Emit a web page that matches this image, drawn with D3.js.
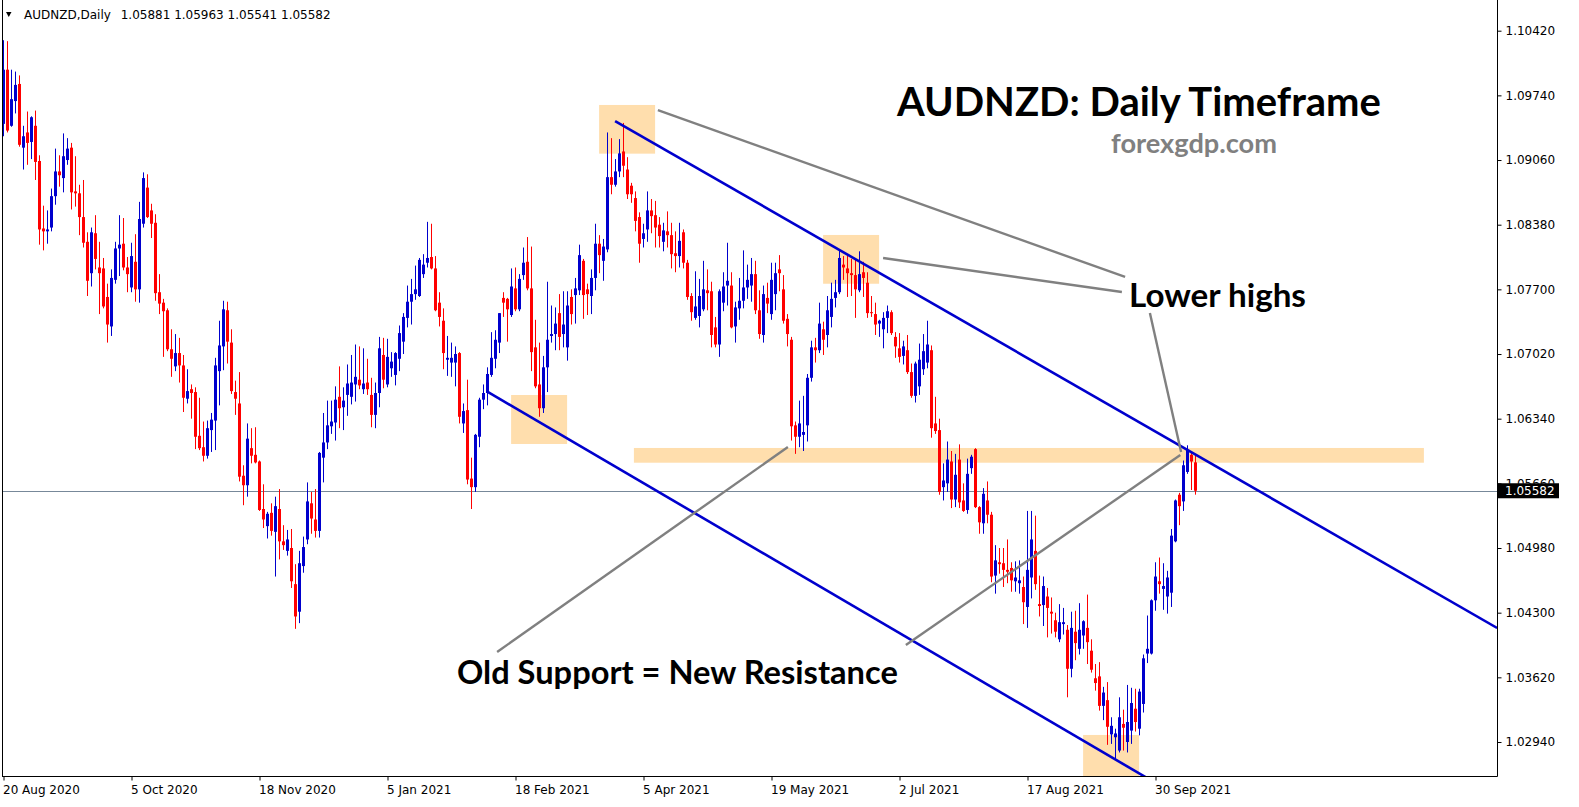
<!DOCTYPE html>
<html><head><meta charset="utf-8">
<script src="https://cdn.jsdelivr.net/npm/d3@7"></script>
<style>html,body{margin:0;padding:0;background:#fff;}svg{display:block;}</style>
</head><body>
<svg id="c" width="1579" height="807"></svg>
<script>
// ---- data (AUDNZD daily, bar 0 = 20 Aug 2020) ----
const openP = [
1.0944,1.1001,1.0942,1.0968,1.0986,1.0919,1.0935,1.0925,1.0942,1.0905,
1.0834,1.0831,1.0835,1.0868,1.0894,1.0887,1.0906,1.0919,1.0873,1.0871,
1.0846,1.0820,1.0787,1.0829,1.0793,1.0792,1.0762,1.0731,1.0780,1.0813,
1.0818,1.0793,1.0772,1.0799,1.0770,1.0839,1.0877,1.0853,1.0840,1.0767,
1.0756,1.0748,1.0707,1.0689,1.0703,1.0690,1.0655,1.0665,1.0662,1.0616,
1.0604,1.0595,1.0622,1.0632,1.0684,1.0710,1.0748,1.0714,1.0662,1.0650,
1.0574,1.0564,1.0603,1.0596,1.0589,1.0539,1.0521,1.0535,1.0515,1.0539,
1.0505,1.0495,1.0498,1.0460,1.0431,1.0479,1.0507,1.0545,1.0528,1.0516,
1.0593,1.0609,1.0626,1.0630,1.0657,1.0646,1.0659,1.0657,1.0670,1.0675,
1.0665,1.0672,1.0659,1.0638,1.0661,1.0701,1.0670,1.0687,1.0680,1.0697,
1.0715,1.0740,1.0757,1.0765,1.0763,1.0786,1.0798,1.0804,1.0792,1.0756,
1.0737,1.0696,1.0693,1.0693,1.0703,1.0629,1.0643,1.0571,1.0562,1.0615,
1.0654,1.0661,1.0680,1.0697,1.0714,1.0761,1.0760,1.0743,1.0771,1.0749,
1.0785,1.0799,1.0771,1.0709,1.0670,1.0645,1.0688,1.0721,1.0723,1.0745,
1.0723,1.0709,1.0762,1.0764,1.0769,1.0800,1.0770,1.0763,1.0782,1.0818,
1.0800,1.0812,1.0888,1.0880,1.0894,1.0915,1.0896,1.0879,1.0866,1.0846,
1.0823,1.0833,1.0853,1.0848,1.0838,1.0820,1.0831,1.0827,1.0808,1.0805,
1.0830,1.0798,1.0763,1.0740,1.0742,1.0749,1.0769,1.0768,1.0730,1.0712,
1.0756,1.0774,1.0774,1.0731,1.0750,1.0758,1.0772,1.0774,1.0786,1.0748,
1.0722,1.0761,1.0744,1.0765,1.0791,1.0770,1.0739,1.0717,1.0627,1.0615,
1.0617,1.0627,1.0677,1.0709,1.0706,1.0728,1.0722,1.0741,1.0761,1.0767,
1.0796,1.0792,1.0787,1.0785,1.0769,1.0788,1.0777,1.0746,1.0744,1.0734,
1.0728,1.0740,1.0746,1.0720,1.0708,1.0700,1.0706,1.0683,1.0658,1.0668,
1.0686,1.0693,1.0706,1.0629,1.0622,1.0562,1.0566,1.0589,1.0549,1.0591,
1.0548,1.0538,1.0582,1.0602,1.0541,1.0524,1.0548,1.0533,1.0469,1.0483,
1.0482,1.0475,1.0477,1.0463,1.0461,1.0457,1.0436,1.0467,1.0495,1.0439,
1.0438,1.0447,1.0431,1.0422,1.0402,1.0418,1.0412,1.0371,1.0410,1.0392,
1.0406,1.0414,1.0390,1.0361,1.0363,1.0332,1.0338,1.0302,1.0299,1.0285,
1.0313,1.0294,1.0306,1.0329,1.0308,1.0334,1.0387,1.0387,1.0443,1.0463,
1.0455,1.0447,1.0451,1.0505,1.0554,1.0547,1.0578,1.0596,1.05881];
const highP = [
1.1032,1.1031,1.1001,1.0999,1.0995,1.0942,1.0957,1.0952,1.0958,1.0911,
1.0858,1.0853,1.0876,1.0918,1.0911,1.0934,1.0929,1.0924,1.0910,1.0880,
1.0885,1.0830,1.0835,1.0848,1.0820,1.0803,1.0776,1.0791,1.0820,1.0848,
1.0845,1.0804,1.0819,1.0828,1.0862,1.0893,1.0891,1.0860,1.0849,1.0786,
1.0760,1.0750,1.0728,1.0723,1.0719,1.0701,1.0686,1.0670,1.0667,1.0656,
1.0631,1.0632,1.0640,1.0698,1.0737,1.0758,1.0757,1.0728,1.0674,1.0683,
1.0585,1.0629,1.0624,1.0625,1.0590,1.0565,1.0536,1.0545,1.0552,1.0560,
1.0522,1.0517,1.0518,1.0481,1.0495,1.0510,1.0567,1.0557,1.0560,1.0599,
1.0640,1.0653,1.0653,1.0668,1.0689,1.0667,1.0691,1.0701,1.0712,1.0710,
1.0708,1.0697,1.0677,1.0672,1.0720,1.0719,1.0718,1.0704,1.0704,1.0732,
1.0745,1.0774,1.0781,1.0795,1.0803,1.0807,1.0841,1.0839,1.0805,1.0767,
1.0750,1.0721,1.0714,1.0710,1.0704,1.0650,1.0675,1.0593,1.0618,1.0656,
1.0670,1.0688,1.0725,1.0727,1.0745,1.0767,1.0761,1.0792,1.0793,1.0786,
1.0814,1.0825,1.0815,1.0738,1.0714,1.0700,1.0778,1.0753,1.0751,1.0765,
1.0768,1.0768,1.0770,1.0782,1.0817,1.0802,1.0776,1.0791,1.0839,1.0827,
1.0823,1.0935,1.0929,1.0907,1.0928,1.0945,1.0909,1.0882,1.0873,1.0851,
1.0839,1.0873,1.0865,1.0863,1.0846,1.0840,1.0852,1.0840,1.0831,1.0840,
1.0833,1.0801,1.0766,1.0789,1.0781,1.0800,1.0791,1.0778,1.0741,1.0770,
1.0788,1.0819,1.0788,1.0757,1.0782,1.0811,1.0796,1.0803,1.0800,1.0769,
1.0774,1.0777,1.0798,1.0798,1.0806,1.0785,1.0744,1.0720,1.0631,1.0653,
1.0658,1.0681,1.0716,1.0719,1.0756,1.0736,1.0763,1.0777,1.0780,1.0812,
1.0805,1.0806,1.0802,1.0801,1.0810,1.0799,1.0788,1.0763,1.0756,1.0738,
1.0746,1.0753,1.0748,1.0725,1.0724,1.0716,1.0722,1.0692,1.0694,1.0713,
1.0723,1.0737,1.0711,1.0657,1.0634,1.0587,1.0610,1.0600,1.0597,1.0607,
1.0566,1.0592,1.0596,1.0603,1.0542,1.0561,1.0568,1.0536,1.0501,1.0498,
1.0498,1.0507,1.0483,1.0484,1.0485,1.0468,1.0537,1.0537,1.0532,1.0469,
1.0468,1.0456,1.0446,1.0430,1.0439,1.0435,1.0417,1.0431,1.0432,1.0440,
1.0422,1.0449,1.0402,1.0376,1.0378,1.0352,1.0357,1.0320,1.0308,1.0341,
1.0328,1.0354,1.0351,1.0350,1.0350,1.0386,1.0427,1.0444,1.0483,1.0488,
1.0482,1.0474,1.0518,1.0549,1.0556,1.0590,1.0606,1.0599,1.05963];
const lowP = [
1.0931,1.0935,1.0941,1.0955,1.0920,1.0896,1.0901,1.0907,1.0885,1.0817,
1.0811,1.0818,1.0831,1.0859,1.0878,1.0872,1.0901,1.0854,1.0857,1.0827,
1.0814,1.0763,1.0773,1.0791,1.0744,1.0750,1.0714,1.0721,1.0776,1.0784,
1.0790,1.0767,1.0767,1.0757,1.0756,1.0835,1.0845,1.0824,1.0758,1.0744,
1.0699,1.0705,1.0678,1.0684,1.0672,1.0641,1.0650,1.0634,1.0602,1.0601,
1.0589,1.0592,1.0599,1.0601,1.0648,1.0685,1.0692,1.0660,1.0638,1.0568,
1.0543,1.0552,1.0587,1.0587,1.0537,1.0519,1.0508,1.0511,1.0468,1.0486,
1.0496,1.0490,1.0456,1.0413,1.0419,1.0472,1.0502,1.0513,1.0509,1.0509,
1.0567,1.0602,1.0618,1.0611,1.0624,1.0622,1.0637,1.0649,1.0652,1.0665,
1.0660,1.0659,1.0625,1.0624,1.0646,1.0666,1.0667,1.0678,1.0669,1.0684,
1.0702,1.0730,1.0733,1.0759,1.0762,1.0782,1.0793,1.0791,1.0747,1.0731,
1.0686,1.0679,1.0678,1.0668,1.0629,1.0619,1.0565,1.0539,1.0557,1.0604,
1.0644,1.0648,1.0678,1.0687,1.0703,1.0741,1.0715,1.0741,1.0747,1.0747,
1.0780,1.0769,1.0684,1.0666,1.0636,1.0640,1.0662,1.0714,1.0706,1.0706,
1.0709,1.0695,1.0733,1.0734,1.0764,1.0739,1.0743,1.0744,1.0769,1.0787,
1.0779,1.0809,1.0870,1.0878,1.0888,1.0888,1.0865,1.0861,1.0831,1.0798,
1.0814,1.0820,1.0829,1.0814,1.0814,1.0810,1.0814,1.0792,1.0788,1.0793,
1.0792,1.0759,1.0737,1.0738,1.0730,1.0747,1.0748,1.0709,1.0709,1.0699,
1.0747,1.0753,1.0729,1.0714,1.0738,1.0750,1.0760,1.0757,1.0744,1.0718,
1.0714,1.0745,1.0738,1.0748,1.0768,1.0734,1.0710,1.0611,1.0597,1.0604,
1.0600,1.0610,1.0673,1.0693,1.0703,1.0701,1.0709,1.0730,1.0751,1.0765,
1.0780,1.0762,1.0763,1.0740,1.0767,1.0762,1.0740,1.0741,1.0722,1.0720,
1.0708,1.0724,1.0722,1.0698,1.0693,1.0691,1.0681,1.0656,1.0651,1.0659,
1.0680,1.0687,1.0614,1.0618,1.0554,1.0548,1.0557,1.0540,1.0541,1.0540,
1.0536,1.0534,1.0576,1.0540,1.0513,1.0513,1.0524,1.0462,1.0450,1.0471,
1.0457,1.0461,1.0452,1.0452,1.0450,1.0418,1.0414,1.0445,1.0454,1.0426,
1.0416,1.0404,1.0408,1.0404,1.0399,1.0407,1.0341,1.0362,1.0380,1.0386,
1.0392,1.0376,1.0367,1.0348,1.0327,1.0317,1.0291,1.0292,1.0275,1.0283,
1.0285,1.0283,1.0292,1.0305,1.0301,1.0325,1.0377,1.0386,1.0432,1.0450,
1.0433,1.0429,1.0436,1.0504,1.0522,1.0537,1.0576,1.0559,1.05541];
const closeP = [
1.1001,1.0937,1.0970,1.0985,1.0922,1.0931,1.0924,1.0951,1.0904,1.0833,
1.0831,1.0833,1.0868,1.0894,1.0890,1.0910,1.0918,1.0872,1.0871,1.0846,
1.0819,1.0779,1.0830,1.0802,1.0787,1.0752,1.0733,1.0782,1.0813,1.0817,
1.0793,1.0786,1.0805,1.0770,1.0844,1.0887,1.0846,1.0839,1.0766,1.0755,
1.0747,1.0707,1.0697,1.0703,1.0690,1.0656,1.0663,1.0661,1.0615,1.0603,
1.0595,1.0624,1.0633,1.0690,1.0711,1.0749,1.0715,1.0663,1.0655,1.0573,
1.0564,1.0613,1.0595,1.0588,1.0538,1.0528,1.0534,1.0516,1.0542,1.0505,
1.0501,1.0507,1.0463,1.0426,1.0482,1.0499,1.0547,1.0529,1.0516,1.0598,
1.0609,1.0627,1.0631,1.0654,1.0645,1.0653,1.0671,1.0672,1.0678,1.0669,
1.0671,1.0665,1.0638,1.0661,1.0708,1.0675,1.0699,1.0694,1.0703,1.0724,
1.0741,1.0757,1.0765,1.0770,1.0801,1.0796,1.0803,1.0792,1.0748,1.0741,
1.0703,1.0698,1.0698,1.0702,1.0636,1.0642,1.0570,1.0562,1.0617,1.0654,
1.0661,1.0681,1.0698,1.0717,1.0745,1.0756,1.0749,1.0773,1.0749,1.0781,
1.0798,1.0771,1.0704,1.0668,1.0645,1.0688,1.0717,1.0723,1.0734,1.0720,
1.0733,1.0753,1.0744,1.0771,1.0806,1.0764,1.0765,1.0782,1.0818,1.0806,
1.0815,1.0888,1.0880,1.0894,1.0913,1.0900,1.0870,1.0870,1.0842,1.0818,
1.0829,1.0853,1.0847,1.0835,1.0826,1.0832,1.0827,1.0807,1.0805,1.0821,
1.0798,1.0762,1.0746,1.0752,1.0763,1.0770,1.0766,1.0722,1.0712,1.0768,
1.0773,1.0779,1.0730,1.0751,1.0758,1.0772,1.0780,1.0786,1.0748,1.0723,
1.0765,1.0755,1.0780,1.0787,1.0787,1.0737,1.0723,1.0626,1.0615,1.0629,
1.0620,1.0677,1.0709,1.0706,1.0734,1.0717,1.0748,1.0760,1.0767,1.0803,
1.0793,1.0787,1.0785,1.0770,1.0786,1.0782,1.0745,1.0745,1.0733,1.0737,
1.0740,1.0747,1.0724,1.0710,1.0699,1.0710,1.0683,1.0658,1.0692,1.0696,
1.0705,1.0712,1.0624,1.0621,1.0557,1.0569,1.0591,1.0549,1.0575,1.0546,
1.0537,1.0576,1.0594,1.0541,1.0525,1.0555,1.0533,1.0468,1.0485,1.0481,
1.0475,1.0473,1.0464,1.0467,1.0464,1.0441,1.0475,1.0507,1.0460,1.0437,
1.0458,1.0435,1.0429,1.0410,1.0420,1.0420,1.0371,1.0414,1.0398,1.0412,
1.0421,1.0399,1.0370,1.0356,1.0332,1.0346,1.0310,1.0311,1.0303,1.0320,
1.0309,1.0315,1.0335,1.0315,1.0347,1.0382,1.0392,1.0443,1.0468,1.0460,
1.0458,1.0467,1.0511,1.0548,1.0542,1.0585,1.0601,1.0589,1.05582];

const dateTickBars = [0, 32, 64, 96, 128, 160, 192, 224, 256, 288];
const dateTickLabels = ["20 Aug 2020","5 Oct 2020","18 Nov 2020","5 Jan 2021","18 Feb 2021",
                        "5 Apr 2021","19 May 2021","2 Jul 2021","17 Aug 2021","30 Sep 2021"];
const priceTicks = [1.10420,1.09740,1.09060,1.08380,1.07700,1.07020,1.06340,1.05660,1.04980,1.04300,1.03620,1.02940];
const lastPrice = 1.05582;
const symbolText = "AUDNZD,Daily";
const ohlcText = "1.05881 1.05963 1.05541 1.05582";

// annotation objects in (bar index, price) coordinates
const zones = [
  {i0:148.9, i1:162.9, p0:1.09639, p1:1.09127},
  {i0:204.9, i1:218.9, p0:1.08272, p1:1.07759},
  {i0:126.9, i1:140.9, p0:1.06589, p1:1.06074},
  {i0:157.6, i1:355.1, p0:1.06032, p1:1.05877},
  {i0:269.9, i1:283.9, p0:1.03014, p1:1.02400}
];
const channelLines = [
  {i0:152.9, p0:1.09470, i1:373.4, p1:1.04139},
  {i0:120.95, p0:1.06624, i1:287.0, p1:1.02534}
];
const pointerLines = [
  {i0:163.6, p0:1.09586, i1:280.4, p1:1.07830},
  {i0:219.9, p0:1.08030, i1:279.6, p1:1.07672},
  {i0:286.6, p0:1.07451, i1:294.4, p1:1.05990},
  {i0:123.4, p0:1.03887, i1:196.1, p1:1.06042},
  {i0:225.6, p0:1.03960, i1:294.2, p1:1.05958}
];
const notes = [
  {t:"AUDNZD: Daily Timeframe", x:897, y:116, w:484, fs:38, c:"#000000"},
  {t:"forexgdp.com", x:1111, y:153, w:166, fs:26, c:"#808080"},
  {t:"Lower highs", x:1129, y:307, w:177, fs:29, c:"#000000"},
  {t:"Old Support = New Resistance", x:457, y:684, w:441, fs:29, c:"#000000"}
];

// ---- layout ----
const W = 1579, H = 807, L = 2, R = 1497, B = 776;
const BULL = "#0000CD", BEAR = "#FF0000";
const AXFONT = "'DejaVu Sans', Verdana, sans-serif";
const svg = d3.select("#c");
const x = d3.scaleLinear().domain([0, 1]).range([3.5, 7.5]);
const y = d3.scaleLinear().domain([1.10420, 1.02940]).range([30.7, 742]);
const yl = y(lastPrice);

svg.append("rect").attr("width", W).attr("height", H).attr("fill", "#fff");
const defs = svg.append("defs");
defs.append("clipPath").attr("id", "pc").append("rect")
  .attr("x", L).attr("y", 0).attr("width", R - L).attr("height", B);
defs.append("clipPath").attr("id", "lblclip").append("rect")
  .attr("x", -10).attr("y", -20).attr("width", 100).attr("height", 20 + (yl - 7.5 - y(1.05660)));
const plot = svg.append("g").attr("clip-path", "url(#pc)");

// zones
plot.selectAll("rect.zone").data(zones).join("rect").attr("class", "zone")
  .attr("x", d => x(d.i0)).attr("width", d => x(d.i1) - x(d.i0))
  .attr("y", d => y(d.p0)).attr("height", d => y(d.p1) - y(d.p0))
  .attr("fill", "#FFDEAD");

// current price line
plot.append("line").attr("x1", L).attr("x2", R)
  .attr("y1", Math.round(yl) + 0.5).attr("y2", Math.round(yl) + 0.5)
  .attr("stroke", "#778899").attr("stroke-width", 1);

// candles
const bars = d3.range(closeP.length).map(i => ({i, o: openP[i], h: highP[i], l: lowP[i], c: closeP[i]}));
const cg = plot.selectAll("g.bar").data(bars).join("g").attr("class", "bar");
cg.append("line")
  .attr("x1", d => x(d.i)).attr("x2", d => x(d.i))
  .attr("y1", d => y(Math.max(d.h, d.o, d.c))).attr("y2", d => y(Math.min(d.l, d.o, d.c)))
  .attr("stroke", d => d.c >= d.o ? BULL : BEAR).attr("stroke-width", 1);
cg.append("rect")
  .attr("x", d => x(d.i) - 1.5).attr("width", 3)
  .attr("y", d => y(Math.max(d.o, d.c)))
  .attr("height", d => Math.max(1, Math.abs(y(d.o) - y(d.c))))
  .attr("fill", d => d.c >= d.o ? BULL : BEAR);

// channel lines
plot.selectAll("line.ch").data(channelLines).join("line").attr("class", "ch")
  .attr("x1", d => x(d.i0)).attr("y1", d => y(d.p0))
  .attr("x2", d => x(d.i1)).attr("y2", d => y(d.p1))
  .attr("stroke", "#0000CD").attr("stroke-width", 2.6);
// pointer lines
plot.selectAll("line.pt").data(pointerLines).join("line").attr("class", "pt")
  .attr("x1", d => x(d.i0)).attr("y1", d => y(d.p0))
  .attr("x2", d => x(d.i1)).attr("y2", d => y(d.p1))
  .attr("stroke", "#808080").attr("stroke-width", 2.4);

// notes
notes.forEach(n => {
  const t = svg.append("text").attr("x", n.x).attr("y", n.y)
    .attr("font-family", "Lato, 'Open Sans', sans-serif").attr("font-weight", 700)
    .attr("font-size", n.fs).attr("fill", n.c).text(n.t);
  const w = t.node().getComputedTextLength();
  if (w > 0) t.attr("font-size", n.fs * n.w / w);
});

// frame
svg.append("line").attr("x1", L + 0.5).attr("x2", L + 0.5).attr("y1", 0).attr("y2", B + 0.5).attr("stroke", "#000");
svg.append("line").attr("x1", L).attr("x2", R + 0.5).attr("y1", B + 0.5).attr("y2", B + 0.5).attr("stroke", "#000");
svg.append("line").attr("x1", R + 0.5).attr("x2", R + 0.5).attr("y1", 0).attr("y2", B + 0.5).attr("stroke", "#000");

// right price axis
const ay = svg.append("g").attr("transform", `translate(${R + 0.5},0)`)
  .call(d3.axisRight(y).tickValues(priceTicks).tickFormat(d3.format(".5f")).tickSize(4).tickPadding(4));
ay.select(".domain").remove();
ay.selectAll("text").attr("font-family", AXFONT).attr("font-size", 12).attr("fill", "#000");
ay.selectAll("line").attr("stroke", "#000");
// the tick label just above the last-price marker is partly hidden by it, as in the original
ay.selectAll(".tick").filter(d => Math.abs(d - 1.05660) < 1e-9).select("text").attr("clip-path", "url(#lblclip)");

// bottom time axis
const ax = svg.append("g").attr("transform", `translate(0,${B + 0.5})`)
  .call(d3.axisBottom(x).tickValues(dateTickBars).tickFormat((d, k) => dateTickLabels[k]).tickSize(4).tickPadding(5));
ax.select(".domain").remove();
ax.selectAll("text").attr("text-anchor", "start").attr("x", -1)
  .attr("font-family", AXFONT).attr("font-size", 12).attr("fill", "#000");
ax.selectAll("line").attr("stroke", "#000");

// last price marker
svg.append("rect").attr("x", R + 1).attr("y", yl - 7.5).attr("width", 61).attr("height", 15).attr("fill", "#000");
svg.append("text").attr("x", R + 8).attr("y", yl + 4.5).attr("font-family", AXFONT)
  .attr("font-size", 12).attr("fill", "#fff").text(d3.format(".5f")(lastPrice));

// header
svg.append("path").attr("d", "M6,12 L11.5,12 L8.75,17 Z").attr("fill", "#000");
svg.append("text").attr("x", 24).attr("y", 19).attr("font-family", AXFONT)
  .attr("font-size", 12).attr("fill", "#000").text(symbolText);
svg.append("text").attr("x", 120.7).attr("y", 19).attr("font-family", AXFONT)
  .attr("font-size", 12).attr("fill", "#000").text(ohlcText);
</script>
</body></html>
